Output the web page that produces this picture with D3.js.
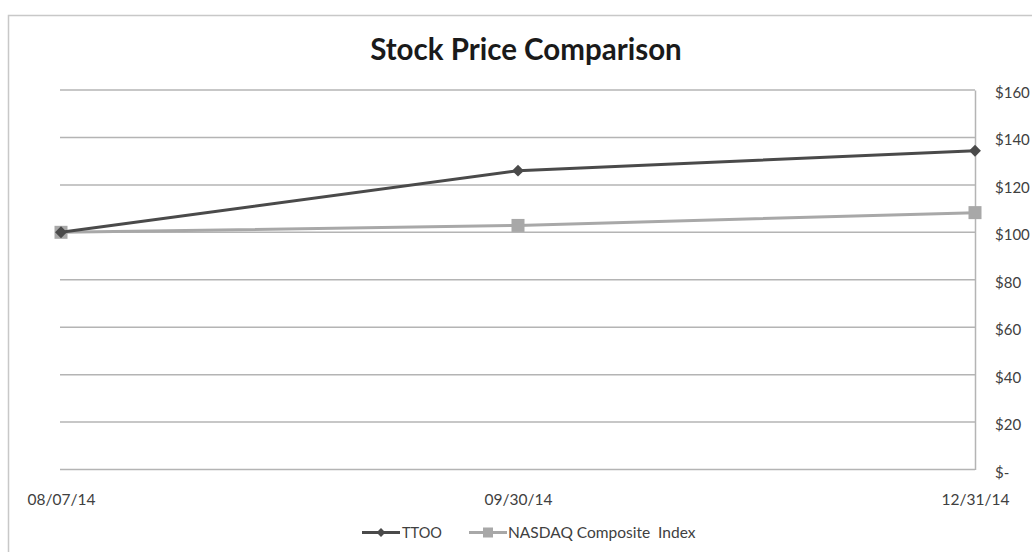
<!DOCTYPE html>
<html>
<head>
<meta charset="utf-8">
<script src="https://cdn.jsdelivr.net/npm/d3@7"></script>
<style>
  body { margin: 0; background: #fff; }
  svg { display: block; }
</style>
</head>
<body>
<div id="chart"></div>
<script>
// data
const dates = ["08/07/14", "09/30/14", "12/31/14"];
const ttoo = [100, 126, 134.4];
const nasdaq = [100, 102.9, 108.3];
const yTicks = [0, 20, 40, 60, 80, 100, 120, 140, 160];
const seriesNames = ["TTOO", "NASDAQ Composite  Index"];

const w = 1032, h = 552;
const svg = d3.select("#chart").append("svg")
  .attr("width", w)
  .attr("height", h);

// chart border (runs off the right and bottom of the picture)
svg.append("rect")
  .attr("x", 8.5).attr("y", 15.5)
  .attr("width", 1100).attr("height", 600)
  .attr("fill", "none")
  .attr("stroke", "#c8c8c8")
  .attr("stroke-width", 1.5);

svg.append("text")
  .attr("x", 526).attr("y", 60)
  .attr("text-anchor", "middle")
  .style("font-family", "Lato, sans-serif")
  .style("font-weight", "bold")
  .style("font-size", "29.5px")
  .attr("fill", "#1a1a1a")
  .text("Stock Price Comparison");

const x = d3.scalePoint().domain(dates).range([61, 975]);
const y = d3.scaleLinear().domain([0, 160]).range([469.5, 90]);

// grid lines
svg.selectAll(".grid")
  .data(yTicks)
  .join("line")
  .attr("class", "grid")
  .attr("x1", 60).attr("x2", 975)
  .attr("y1", d => y(d)).attr("y2", d => y(d))
  .attr("stroke", "#b4b4b4")
  .attr("stroke-width", 1.5);

// right axis
const yAxis = svg.append("g")
  .attr("transform", "translate(975,0)")
  .call(d3.axisRight(y).tickValues(yTicks).tickSize(0).tickFormat(d => d === 0 ? "$-" : "$" + d));
yAxis.select(".domain").attr("stroke", "#b4b4b4").attr("stroke-width", 1.5);
yAxis.selectAll("text")
  .attr("x", 20)
  .attr("dy", "0.5em")
  .attr("fill", "#404040")
  .style("font-family", "Lato, sans-serif")
  .style("font-size", "15px");

// bottom labels
const xAxis = svg.append("g")
  .attr("transform", "translate(0,469.5)")
  .call(d3.axisBottom(x).tickSize(0));
xAxis.select(".domain").remove();
xAxis.selectAll("text")
  .attr("y", 24)
  .attr("fill", "#404040")
  .style("font-family", "Lato, sans-serif")
  .style("font-size", "15.5px");

const line = d3.line().x((d, i) => x(dates[i])).y(d => y(d));

const colTtoo = "#4a4a4a", colNas = "#a8a8a8";

svg.append("path").datum(nasdaq)
  .attr("d", line).attr("fill", "none")
  .attr("stroke", colNas).attr("stroke-width", 3);
svg.selectAll(".sq").data(nasdaq).join("rect")
  .attr("class", "sq")
  .attr("x", (d, i) => x(dates[i]) - 6.5)
  .attr("y", d => y(d) - 6.5)
  .attr("width", 13).attr("height", 13)
  .attr("fill", colNas);

svg.append("path").datum(ttoo)
  .attr("d", line).attr("fill", "none")
  .attr("stroke", colTtoo).attr("stroke-width", 3);
const diamond = d3.symbol().type(d3.symbolDiamond2).size(90);
svg.selectAll(".dm").data(ttoo).join("path")
  .attr("class", "dm")
  .attr("transform", (d, i) => "translate(" + x(dates[i]) + "," + y(d) + ")")
  .attr("d", diamond)
  .attr("fill", colTtoo);

// legend
const legendY = 532.5;
const leg = svg.append("g");
leg.append("line").attr("x1", 362).attr("x2", 400).attr("y1", legendY).attr("y2", legendY)
  .attr("stroke", colTtoo).attr("stroke-width", 3);
leg.append("path").attr("transform", "translate(381," + legendY + ")")
  .attr("d", d3.symbol().type(d3.symbolDiamond2).size(50)).attr("fill", colTtoo);
leg.append("text").attr("x", 402).attr("y", legendY).attr("dy", "0.36em")
  .style("font-family", "Lato, sans-serif").style("font-size", "14.5px")
  .attr("fill", "#404040").text(seriesNames[0]);

leg.append("line").attr("x1", 469).attr("x2", 507).attr("y1", legendY).attr("y2", legendY)
  .attr("stroke", colNas).attr("stroke-width", 3);
leg.append("rect").attr("x", 483).attr("y", legendY - 5).attr("width", 10).attr("height", 10)
  .attr("fill", colNas);
leg.append("text").attr("x", 508).attr("y", legendY).attr("dy", "0.36em")
  .style("font-family", "Lato, sans-serif").style("font-size", "15.5px")
  .style("white-space", "pre")
  .attr("fill", "#404040").text(seriesNames[1]);
</script>
</body>
</html>
